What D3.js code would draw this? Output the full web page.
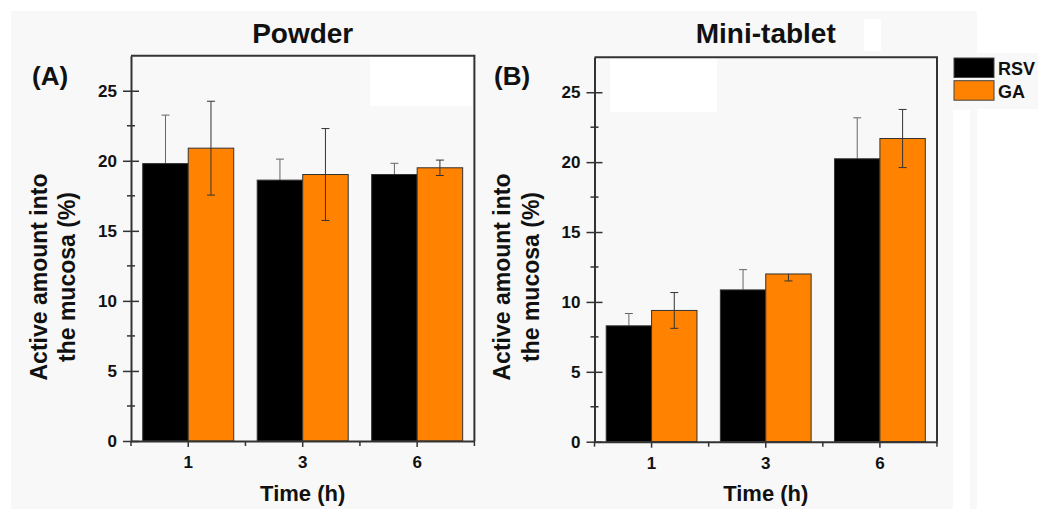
<!DOCTYPE html>
<html>
<head>
<meta charset="utf-8">
<script src="https://cdn.jsdelivr.net/npm/d3@7"></script>
<style>
  body { margin: 0; background: #fff; }
  text { font-family: "Liberation Sans", Arial, sans-serif; font-weight: bold; fill: #111; }
</style>
</head>
<body>
<script>
// categories and series
var times = ["1", "3", "6"];
var series = ["RSV", "GA"];
var colors = ["#000000", "#ff8200"];

// Powder (A)
var powderRSV = [19.8, 18.62, 19.02];
var powderGA = [20.9, 19.02, 19.5];
var powderRSVErr = [3.46, 1.5, 0.8];
var powderGAErr = [3.35, 3.28, 0.55];

// Mini-tablet (B)
var tabletRSV = [8.29, 10.86, 20.24];
var tabletGA = [9.39, 12.0, 21.69];
var tabletRSVErr = [0.88, 1.45, 2.93];
var tabletGAErr = [1.28, 0.5, 2.08];

var yTicks = [0, 5, 10, 15, 20, 25];
var yMinor = [2.5, 7.5, 12.5, 17.5, 22.5];

var width = 1038, height = 509;

var svg = d3.select("body").append("svg")
  .attr("width", width)
  .attr("height", height);

// light gray backdrop with the white patches of the original figure
svg.append("rect").attr("x", 11).attr("y", 11).attr("width", 966).attr("height", 498).attr("fill", "#f8f8f8");
svg.append("rect").attr("x", 953).attr("y", 53).attr("width", 85).attr("height", 56).attr("fill", "#f8f8f8");
svg.append("rect").attr("x", 864).attr("y", 19).attr("width", 17).attr("height", 32).attr("fill", "#fff");
svg.append("rect").attr("x", 953).attr("y", 110).attr("width", 17).attr("height", 399).attr("fill", "#fff");
svg.append("rect").attr("x", 370).attr("y", 57).attr("width", 102).attr("height", 49).attr("fill", "#fff");
svg.append("rect").attr("x", 610).attr("y", 58).attr("width", 107).attr("height", 54).attr("fill", "#fff");

var panels = [
  { title: "Powder", tag: "(A)", left: 131, right: 474.4, top: 55.7, bottom: 441, tagX: 32, labX: 46.5,
    vals: [powderRSV, powderGA], errs: [powderRSVErr, powderGAErr] },
  { title: "Mini-tablet", tag: "(B)", left: 594.5, right: 937, top: 57.3, bottom: 441.7, tagX: 494, labX: 510,
    vals: [tabletRSV, tabletGA], errs: [tabletRSVErr, tabletGAErr] }
];

panels.forEach(function(p){
  var g = svg.append("g");

  var x0 = d3.scaleBand().domain(times).range([p.left, p.right])
    .paddingInner(0.205).paddingOuter(0.1025);
  var x1 = d3.scaleBand().domain(series).range([0, x0.bandwidth()]);
  var y = d3.scaleLinear().domain([0, 27.5]).range([p.bottom, p.top]);

  // bars
  series.forEach(function(s, si){
    g.selectAll(".bar" + si)
      .data(times)
      .enter()
      .append("rect")
      .attr("x", function(d){ return x0(d) + x1(s); })
      .attr("y", function(d, i){ return y(p.vals[si][i]); })
      .attr("width", x1.bandwidth())
      .attr("height", function(d, i){ return y(0) - y(p.vals[si][i]); })
      .attr("fill", colors[si])
      .attr("stroke", "#333")
      .attr("stroke-width", 1);
  });

  // error bars (the part inside a black bar is black on black)
  series.forEach(function(s, si){
    times.forEach(function(t, i){
      var cx = x0(t) + x1(s) + x1.bandwidth() / 2;
      var v = p.vals[si][i], e = p.errs[si][i];
      var hi = (si === 1 && p.title === "Mini-tablet" && t === "3") ? v : v + e;
      var up = si === 0 ? "#666" : "#333", down = si === 0 ? "#000" : "#333";
      var eb = g.append("g").attr("stroke-width", 1);
      eb.append("line").attr("x1", cx).attr("x2", cx).attr("y1", y(v)).attr("y2", y(hi)).attr("stroke", up);
      if (hi > v) eb.append("line").attr("x1", cx - 4).attr("x2", cx + 4).attr("y1", y(hi)).attr("y2", y(hi)).attr("stroke", up);
      eb.append("line").attr("x1", cx).attr("x2", cx).attr("y1", y(v)).attr("y2", y(v - e)).attr("stroke", down);
      eb.append("line").attr("x1", cx - 4).attr("x2", cx + 4).attr("y1", y(v - e)).attr("y2", y(v - e)).attr("stroke", down);
    });
  });

  // frame
  g.append("path")
    .attr("d", "M" + p.left + "," + p.top + "H" + p.right + "V" + p.bottom)
    .attr("fill", "none").attr("stroke", "#333").attr("stroke-width", 2);

  // y axis
  var yAxis = g.append("g")
    .attr("transform", "translate(" + p.left + ",0)")
    .call(d3.axisLeft(y).tickValues(yTicks).tickSize(8).tickSizeOuter(0).tickPadding(6));
  yAxis.select(".domain").attr("stroke", "#333").attr("stroke-width", 2);
  yAxis.selectAll(".tick line").attr("x2", 8).attr("x1", -8).attr("stroke", "#333").attr("stroke-width", 1.5);
  yAxis.selectAll(".tick text").attr("font-size", 17).attr("fill", "#111");
  yAxis.selectAll(".minor")
    .data(yMinor)
    .enter()
    .append("line")
    .attr("x1", -4).attr("x2", 4)
    .attr("y1", function(d){ return y(d); }).attr("y2", function(d){ return y(d); })
    .attr("stroke", "#333").attr("stroke-width", 1.5);

  // x axis
  var xAxis = g.append("g")
    .attr("transform", "translate(0," + p.bottom + ")")
    .call(d3.axisBottom(x0).tickSize(6).tickSizeOuter(0).tickPadding(9));
  xAxis.select(".domain").attr("stroke", "#333").attr("stroke-width", 2);
  xAxis.selectAll(".tick line").attr("stroke", "#333").attr("stroke-width", 1.5);
  xAxis.selectAll(".tick text").attr("font-size", 17).attr("fill", "#111");
  var step = x0.step();
  xAxis.selectAll(".minor")
    .data(d3.range(times.length + 1))
    .enter()
    .append("line")
    .attr("x1", function(d){ return p.left + d * step; })
    .attr("x2", function(d){ return p.left + d * step; })
    .attr("y1", 0).attr("y2", 5)
    .attr("stroke", "#333").attr("stroke-width", 1.5);

  // titles and labels
  var cx = (p.left + p.right) / 2;
  g.append("text").attr("x", cx).attr("y", 43).attr("text-anchor", "middle")
    .attr("font-size", 28).text(p.title);
  g.append("text").attr("x", p.tagX).attr("y", 85).attr("font-size", 26).text(p.tag);
  g.append("text").attr("x", cx).attr("y", 501).attr("text-anchor", "middle")
    .attr("font-size", 22).text("Time (h)");

  var yl = g.append("text")
    .attr("transform", "translate(" + p.labX + ",277) rotate(-90)")
    .attr("text-anchor", "middle").attr("font-size", 23);
  yl.append("tspan").attr("x", 0).attr("y", 0).text("Active amount into");
  yl.append("tspan").attr("x", 0).attr("y", 28.5).text("the mucosa (%)");
});

// legend
var legend = svg.append("g").attr("transform", "translate(954,58)");
series.forEach(function(s, i){
  legend.append("rect")
    .attr("x", 0).attr("y", i * 22.7)
    .attr("width", 40).attr("height", 19.5)
    .attr("fill", colors[i]).attr("stroke", "#444").attr("stroke-width", 1);
  legend.append("text")
    .attr("x", 44).attr("y", i * 22.7 + 17)
    .attr("font-size", 18).text(s);
});
</script>
</body>
</html>
